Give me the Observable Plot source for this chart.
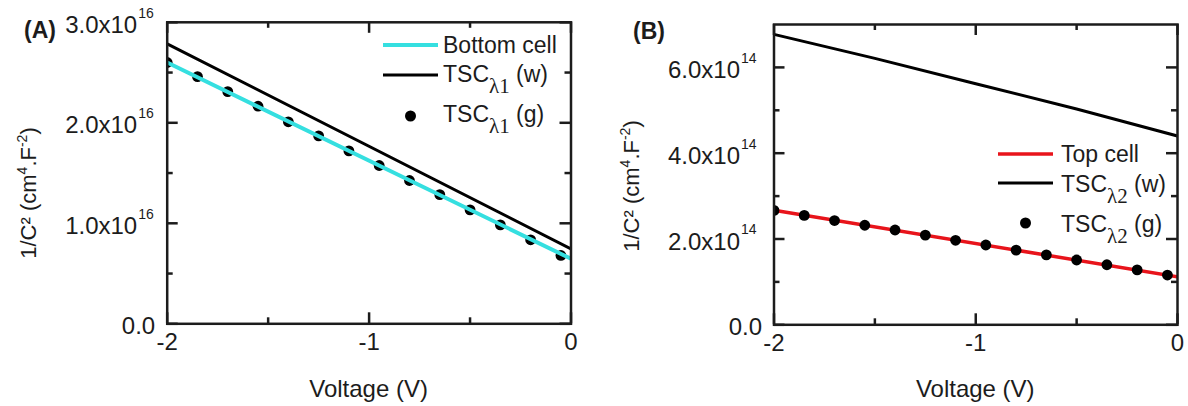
<!DOCTYPE html>
<html><head><meta charset="utf-8">
<script src="https://cdn.jsdelivr.net/npm/d3@7"></script>
<script src="https://cdn.jsdelivr.net/npm/@observablehq/plot@0.6"></script>
<style>
body{margin:0;background:#fff;}
#wrap{position:relative;width:1188px;height:406px;overflow:hidden;background:#fff;}
#wrap svg{position:absolute;top:0;}
</style></head><body><div id="wrap"></div>
<script>
// ---------- data ----------
const voltage = [-2, -1.85, -1.7, -1.55, -1.4, -1.25, -1.1, -0.95, -0.8, -0.65, -0.5, -0.35, -0.2, -0.05];
// Panel A
const bottomCellV = [-2, 0];
const bottomCellY = [2.60e16, 0.647e16];
const tscL1wV = [-2, 0];
const tscL1wY = [2.786e16, 0.746e16];
const tscL1gY = [2.60e16, 2.46e16, 2.31e16, 2.165e16, 2.01e16, 1.87e16, 1.72e16, 1.575e16, 1.426e16, 1.286e16, 1.134e16, 0.985e16, 0.836e16, 0.68e16];
// Panel B
const topCellV = [-2, 0];
const topCellY = [2.67e14, 1.12e14];
const tscL2wV = [-2, -1.5, -1, -0.5, 0];
const tscL2wY = [6.77e14, 6.21e14, 5.62e14, 5.03e14, 4.40e14];
const tscL2gY = [2.667e14, 2.55e14, 2.43e14, 2.32e14, 2.21e14, 2.09e14, 1.97e14, 1.86e14, 1.74e14, 1.63e14, 1.51e14, 1.40e14, 1.28e14, 1.16e14];
// ticks
const xMajor = [-2, -1, 0];
const xMinor = [-1.5, -0.5];
const xTickText = ["-2", "-1", "0"];
const yMajorA = [0, 1e16, 2e16, 3e16];
const yMinorA = [0.5e16, 1.5e16, 2.5e16];
const yTextA = ["0.0", "1.0x10", "2.0x10", "3.0x10"];
const yExpA = ["", "16", "16", "16"];
const yMajorB = [0, 2e14, 4e14, 6e14];
const yMinorB = [1e14, 3e14, 5e14];
const yTextB = ["0.0", "2.0x10", "4.0x10", "6.0x10"];
const yExpB = ["", "14", "14", "14"];

const FONT = "'Liberation Sans', Arial, Helvetica, sans-serif";
const INK = "#1c1c1c";

function panel(cfg) {
  const W = 594, H = 406;
  const fw = W - cfg.ml - cfg.mr, fh = H - cfg.mt - cfg.mb;
  const idx = yMajor => yMajor.map((v, i) => i);
  const marks = [
    ...cfg.dataMarks,
    Plot.tickY(cfg.yMajor, {y: d => d, insetRight: fw - 11, stroke: INK, strokeWidth: 2.5}),
    Plot.tickY(cfg.yMinor, {y: d => d, insetRight: fw - 6, stroke: INK, strokeWidth: 2.5}),
    Plot.tickY(cfg.yMajor, {y: d => d, insetLeft: fw - 11, stroke: INK, strokeWidth: 2.5}),
    Plot.tickY(cfg.yMinor, {y: d => d, insetLeft: fw - 6, stroke: INK, strokeWidth: 2.5}),
    Plot.tickX(xMajor, {x: d => d, insetTop: fh - 11, stroke: INK, strokeWidth: 2.5}),
    Plot.tickX(xMinor, {x: d => d, insetTop: fh - 6, stroke: INK, strokeWidth: 2.5}),
    Plot.tickX(xMajor, {x: d => d, insetBottom: fh - 11, stroke: INK, strokeWidth: 2.5}),
    Plot.tickX(xMinor, {x: d => d, insetBottom: fh - 6, stroke: INK, strokeWidth: 2.5}),
    Plot.frame({stroke: INK, strokeWidth: 2.5}),
    Plot.text(xMajor.map((v, i) => i), {x: i => xMajor[i], text: i => xTickText[i], frameAnchor: "bottom", dy: 26, fontSize: 24, fill: INK}),
    Plot.text(idx(cfg.yMajor), {filter: i => cfg.yExp[i] !== "", y: i => cfg.yMajor[i], text: i => cfg.yText[i], frameAnchor: "left", textAnchor: "end", dx: cfg.baseDx, dy: 3, fontSize: 24, fill: INK}),
    Plot.text(idx(cfg.yMajor), {filter: i => cfg.yExp[i] !== "", y: i => cfg.yMajor[i], text: i => cfg.yExp[i], frameAnchor: "left", textAnchor: "start", dx: cfg.baseDx + 1, dy: -9, fontSize: 14, fill: INK}),
    Plot.text(idx(cfg.yMajor), {filter: i => cfg.yExp[i] === "", y: i => cfg.yMajor[i], text: i => cfg.yText[i], frameAnchor: "left", textAnchor: "end", dx: -12, dy: 3, fontSize: 24, fill: INK})
  ];
  const svg = Plot.plot({
    width: W, height: H,
    marginLeft: cfg.ml, marginRight: cfg.mr, marginTop: cfg.mt, marginBottom: cfg.mb,
    x: {domain: [-2, 0], axis: null},
    y: {domain: cfg.yDomain, axis: null},
    style: {fontFamily: FONT, background: "transparent", color: INK, overflow: "visible"},
    marks
  });
  svg.style.left = cfg.left + "px";
  const s = d3.select(svg);
  const g = s.append("g").attr("font-family", FONT).attr("fill", INK).attr("text-anchor", "start");
  // panel letter
  g.append("text").attr("x", cfg.letterX).attr("y", cfg.letterY).attr("font-size", 23).attr("font-weight", "bold").text(cfg.letter);
  // x title
  g.append("text").attr("x", cfg.ml + fw / 2).attr("y", 397).attr("text-anchor", "middle").attr("font-size", 24).text("Voltage (V)");
  // y title
  const yt = g.append("text").attr("transform", `translate(${cfg.ytX},${cfg.ytY}) rotate(-90)`).attr("text-anchor", "middle").attr("dy", "0.35em").attr("font-size", 22);
  yt.append("tspan").text("1/C² (cm");
  yt.append("tspan").attr("font-size", 14).attr("dy", -9).text("4");
  yt.append("tspan").attr("dy", 9).text(".F");
  yt.append("tspan").attr("font-size", 14).attr("dy", -9).text("-2");
  yt.append("tspan").attr("dy", 9).text(")");
  // legend
  const L = cfg.legend;
  const lg = g.append("g");
  L.items.forEach((it, k) => {
    if (it.kind === "line") {
      lg.append("line").attr("x1", L.x1).attr("x2", L.x2).attr("y1", it.y).attr("y2", it.y).attr("stroke", it.color).attr("stroke-width", it.sw);
    } else {
      lg.append("circle").attr("cx", (L.x1 + L.x2) / 2).attr("cy", it.y).attr("r", 5.5).attr("fill", "#000");
    }
    const t = lg.append("text").attr("x", L.tx).attr("y", it.base).attr("font-size", 23);
    t.append("tspan").text(it.main);
    if (it.sub) {
      t.append("tspan").attr("font-family", "'Liberation Serif', 'Times New Roman', serif").attr("font-size", 21).attr("dy", 11).text(it.sub);
      t.append("tspan").attr("dy", -11).text(it.rest);
    }
  });
  return svg;
}

const wrap = document.getElementById("wrap");

wrap.appendChild(panel({
  left: 0, ml: 166.7, mr: 23.5, mt: 21.8, mb: 82.7,
  yDomain: [0, 3e16], yMajor: yMajorA, yMinor: yMinorA, yText: yTextA, yExp: yExpA, baseDx: -30,
  letter: "(A)", letterX: 24, letterY: 38, ytX: 28, ytY: 193,
  dataMarks: [
    Plot.line(tscL1wV, {x: d => d, y: (d, i) => tscL1wY[i], stroke: "#000", strokeWidth: 3, clip: true}),
    Plot.dot(voltage, {x: d => d, y: (d, i) => tscL1gY[i], r: 5.4, fill: "#000", clip: true}),
    Plot.line(bottomCellV, {x: d => d, y: (d, i) => bottomCellY[i], stroke: "#35dfe0", strokeWidth: 4, clip: true})
  ],
  legend: {x1: 383, x2: 438, tx: 443, items: [
    {kind: "line", y: 45, base: 53, color: "#35dfe0", sw: 4, main: "Bottom cell"},
    {kind: "line", y: 75, base: 82, color: "#000", sw: 3, main: "TSC", sub: "λ1", rest: " (w)"},
    {kind: "dot", y: 116, base: 122, main: "TSC", sub: "λ1", rest: " (g)"}
  ]}
}));

wrap.appendChild(panel({
  left: 594, ml: 179.5, mr: 11, mt: 24, mb: 81.7,
  yDomain: [0, 7e14], yMajor: yMajorB, yMinor: yMinorB, yText: yTextB, yExp: yExpB, baseDx: -34,
  letter: "(B)", letterX: 39, letterY: 39, ytX: 37, ytY: 186,
  dataMarks: [
    Plot.line(tscL2wV, {x: d => d, y: (d, i) => tscL2wY[i], stroke: "#000", strokeWidth: 3, clip: true}),
    Plot.line(topCellV, {x: d => d, y: (d, i) => topCellY[i], stroke: "#e8141b", strokeWidth: 3.5, clip: true}),
    Plot.dot(voltage, {x: d => d, y: (d, i) => tscL2gY[i], r: 5.4, fill: "#000", clip: true})
  ],
  legend: {x1: 404, x2: 459, tx: 467, items: [
    {kind: "line", y: 154, base: 162, color: "#e8141b", sw: 3.5, main: "Top cell"},
    {kind: "line", y: 183, base: 192, color: "#000", sw: 3, main: "TSC", sub: "λ2", rest: " (w)"},
    {kind: "dot", y: 223, base: 232, main: "TSC", sub: "λ2", rest: " (g)"}
  ]}
}));
</script>
</body></html>
